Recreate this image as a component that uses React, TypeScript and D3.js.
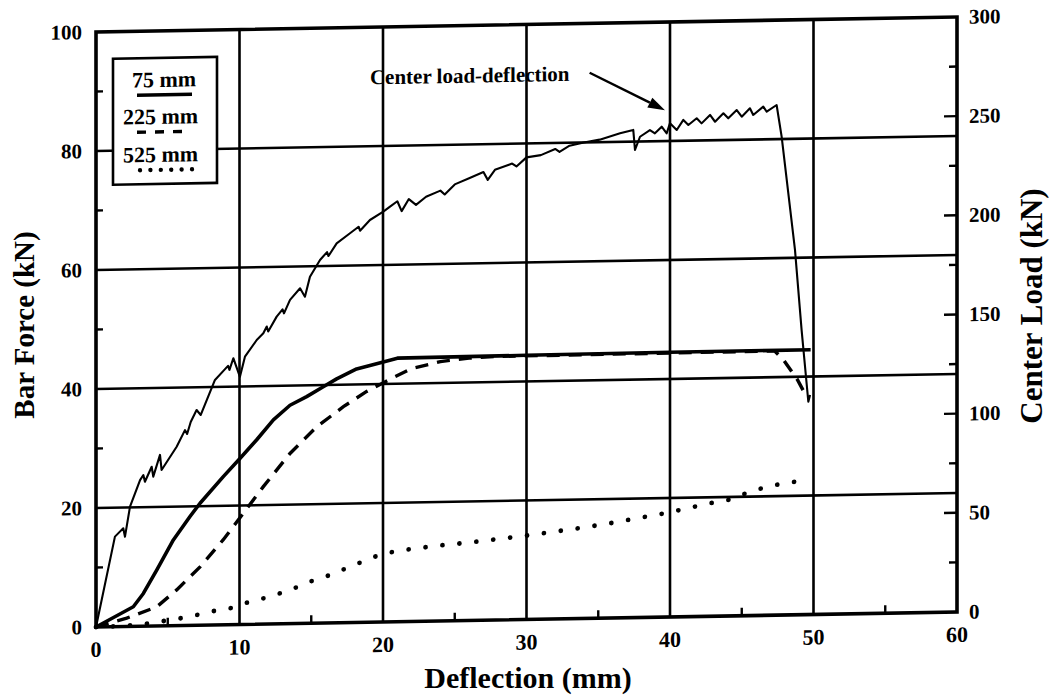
import React from "react";
import * as d3 from "d3";

// ---------- data ----------
const xTicks = [0, 10, 20, 30, 40, 50, 60];
const xMinorTicks = [5, 15, 25, 35, 45, 55];
const leftTicks = [0, 20, 40, 60, 80, 100];
const leftMinorTicks = [10, 30, 50, 70, 90];
const rightTicks = [0, 50, 100, 150, 200, 250, 300];
const rightMinorTicks = [25, 50, 75, 100, 125, 150, 175, 200, 225, 250, 275];
const vGrid = [10, 20, 30, 40, 50];
const hGrid = [20, 40, 60, 80];

// Center load (kN, right axis) vs deflection (mm)
const centerLoad: [number, number][] = [
  [0, 0], [1.32, 45.4], [1.9, 49.5], [2.02, 45.3], [2.37, 60.4], [3.07, 73.7], [3.3, 76.2], [3.41, 72.8],
  [3.88, 80.3], [3.99, 75.3], [4.46, 86.2], [4.57, 78.6], [5.62, 90.2], [6.2, 98.5], [6.35, 96.5], [6.6, 102.5],
  [7.01, 108.5], [7.3, 106], [8.29, 123.5], [9.2, 130.5], [9.3, 128.5], [9.57, 134.3], [10.03, 124.9], [10.38, 135],
  [11.2, 143.3], [11.66, 146.6], [11.9, 150], [12.0, 147.5], [12.59, 154.9], [13.0, 158.5], [13.1, 156.5],
  [13.52, 163.2], [14.22, 169], [14.56, 164.7], [14.91, 174.7], [15.61, 183.1], [16.1, 187], [16.2, 185],
  [16.77, 191.3], [17.7, 196.3], [18.3, 199.5], [18.4, 197.5], [19.09, 202.8], [20.02, 206.9], [20.49, 209.4],
  [21.0, 212], [21.3, 207], [21.8, 213], [22.3, 210], [23, 214], [24, 217], [24.3, 215], [25, 220], [26, 223],
  [27, 226], [27.3, 222], [27.8, 227], [29, 230], [29.3, 228.5], [30, 233], [31, 234], [32, 237], [32.3, 235.5],
  [33, 238.5], [34, 240], [35.1, 241.3], [36.52, 244.3], [37.44, 245.9], [37.56, 235.8], [37.91, 242.4],
  [38.6, 245.7], [38.95, 244], [39.42, 247.3], [39.77, 243.9], [40.0, 249], [40.47, 245.5], [40.93, 250.5],
  [41.28, 247.9], [41.86, 251.2], [42.2, 248.6], [42.79, 252.8], [43.14, 249.3], [43.72, 253.5], [44.06, 250.9],
  [44.65, 255], [45.0, 251.6], [45.57, 255.8], [45.8, 252.4], [46.5, 256.5], [46.74, 253.9], [47.43, 257.2],
  [47.78, 241.2], [48.71, 184], [49.17, 143.6], [49.64, 107.3], [49.76, 110.7],
];

// Bar force (kN, left axis) vs deflection (mm)
const bar75: [number, number][] = [
  [0, 0], [2.6, 3.3], [3.3, 5.5], [4.23, 9.4], [5.39, 14.4], [6.55, 18.3], [7.25, 20.5], [8.87, 24.9],
  [10.03, 27.9], [11.2, 31.0], [12.36, 34.3], [13.52, 36.7], [14.68, 38.1], [15.84, 39.7], [16.77, 41.0],
  [18.16, 42.6], [20.02, 43.7], [21, 44.3], [30, 44.4], [40, 44.5], [49.8, 44.5],
];
const bar225: [number, number][] = [
  [0, 0], [2.14, 1.4], [4.23, 3.2], [5.62, 6.0], [7.25, 9.8], [8.87, 14.3], [10.27, 18.7], [11.66, 23.1],
  [13.52, 28.6], [15.38, 33.0], [17.24, 36.3], [18.86, 38.8], [20.5, 40.8], [22, 42.5], [24, 43.6], [26, 44.1],
  [28, 44.3], [47.3, 44.4], [47.9, 42.9], [48.88, 39.5], [49.52, 36.6],
];
const bar525: [number, number][] = [
  [0, 0], [2, 0.1], [3.5, 0.4], [5.16, 0.96], [6.55, 1.46], [7.94, 2.24], [9.34, 2.75], [10.73, 3.8],
  [12.13, 4.6], [13.52, 5.65], [14.91, 7.0], [16.31, 8.05], [17.7, 9.4], [19.09, 10.7], [20.02, 11.5],
  [22, 12.2], [24, 12.7], [26, 13.1], [28, 13.6], [30, 14.1], [32, 14.7], [34, 15.3], [36, 16.0], [38, 16.8],
  [40, 17.6], [41.16, 18.2], [42.79, 19.0], [44.06, 19.5], [45.34, 20.6], [46.74, 21.6], [48.13, 22.2], [49.64, 22.6],
];

const legendLabels = ["75 mm", "225 mm", "525 mm"];
const annotationText = "Center load-deflection";
const annotationAt: [number, number] = [33.0, 90.4];
const arrowFrom: [number, number] = [34.4, 91.7];
const arrowTo: [number, number] = [39.65, 85.2];

// ---------- layout ----------
const W = 1052;
const H = 698;
const ORIGIN_X = 96;
const ORIGIN_Y = 627;
const PW = 861;
const PH = 595;
const SKEW = -1.0;
const FONT = "'Liberation Serif', 'Times New Roman', serif";

export default function App() {
  const x = d3.scaleLinear().domain([0, 60]).range([0, PW]);
  const yL = d3.scaleLinear().domain([0, 100]).range([0, -PH]);
  const yR = d3.scaleLinear().domain([0, 300]).range([0, -PH]);

  const lineL = d3.line<[number, number]>().x((d) => x(d[0])).y((d) => yL(d[1]));
  const lineR = d3.line<[number, number]>().x((d) => x(d[0])).y((d) => yR(d[1]));

  // arrow geometry
  const ax1 = x(arrowFrom[0]), ay1 = yL(arrowFrom[1]);
  const ax2 = x(arrowTo[0]), ay2 = yL(arrowTo[1]);
  const ang = Math.atan2(ay2 - ay1, ax2 - ax1);
  const hl = 17, hw = 5.5;
  const bx = ax2 - hl * Math.cos(ang), by = ay2 - hl * Math.sin(ang);
  const head = [
    [ax2, ay2],
    [bx + hw * Math.sin(ang), by - hw * Math.cos(ang)],
    [bx - hw * Math.sin(ang), by + hw * Math.cos(ang)],
  ];

  const lw = 2.6;
  return (
    <svg width={W} height={H} style={{ position: "absolute", left: 0, top: 0, background: "#fff" }}
      fontFamily={FONT}>
      <rect x={0} y={0} width={W} height={H} fill="#fff" />
      <g transform={`translate(${ORIGIN_X},${ORIGIN_Y}) skewY(${SKEW})`}>
        {/* grid */}
        {vGrid.map((v) => (
          <line key={"vg" + v} x1={x(v)} x2={x(v)} y1={0} y2={-PH} stroke="#000" strokeWidth={lw} />
        ))}
        {hGrid.map((v) => (
          <line key={"hg" + v} x1={0} x2={PW} y1={yL(v)} y2={yL(v)} stroke="#000" strokeWidth={lw} />
        ))}
        {/* minor ticks */}
        {xMinorTicks.map((v) => (
          <line key={"xm" + v} x1={x(v)} x2={x(v)} y1={0} y2={-8} stroke="#000" strokeWidth={2.4} />
        ))}
        {leftMinorTicks.map((v) => (
          <line key={"lm" + v} x1={0} x2={7} y1={yL(v)} y2={yL(v)} stroke="#000" strokeWidth={2.4} />
        ))}
        {rightMinorTicks.map((v) => (
          <line key={"rm" + v} x1={PW} x2={PW - (v % 50 === 0 ? 13 : 8)} y1={yR(v)} y2={yR(v)} stroke="#000" strokeWidth={2.4} />
        ))}

        {/* series */}
        <path d={lineL(bar525) || ""} fill="none" stroke="#000" strokeWidth={4.8} strokeLinecap="round"
          strokeDasharray="0 17" />
        <path d={lineL(bar225) || ""} fill="none" stroke="#000" strokeWidth={3.4} strokeDasharray="13 9" />
        <path d={lineL(bar75) || ""} fill="none" stroke="#000" strokeWidth={3.6} strokeLinejoin="round" />
        <path d={lineR(centerLoad) || ""} fill="none" stroke="#000" strokeWidth={2.1} strokeLinejoin="round" />

        {/* frame */}
        <rect x={0} y={-PH} width={PW} height={PH} fill="none" stroke="#000" strokeWidth={3.6} />

        {/* left tick labels */}
        {leftTicks.map((v) => (
          <text key={"lt" + v} x={-14} y={yL(v) + 7} textAnchor="end" fontSize={21} fontWeight="bold">{v}</text>
        ))}
        {/* right tick labels */}
        {rightTicks.map((v) => (
          <text key={"rt" + v} x={PW + 12} y={yR(v) + 7} textAnchor="start" fontSize={21} fontWeight="bold">{v}</text>
        ))}
        {/* bottom tick labels */}
        {xTicks.map((v) => (
          <text key={"xt" + v} x={x(v)} y={30} textAnchor="middle" fontSize={22} fontWeight="bold">{v}</text>
        ))}

        {/* legend */}
        <g>
          <rect x={17} y={-568} width={104} height={126} fill="#fff" stroke="#000" strokeWidth={2.6} />
          <text x={36} y={-539} fontSize={22} fontWeight="bold">{legendLabels[0]}</text>
          <line x1={41} x2={96} y1={-531} y2={-531} stroke="#000" strokeWidth={3.6} />
          <text x={27} y={-502} fontSize={22} fontWeight="bold">{legendLabels[1]}</text>
          <line x1={41} x2={92} y1={-494} y2={-494} stroke="#000" strokeWidth={3.4} strokeDasharray="9 9" />
          <text x={27} y={-464} fontSize={22} fontWeight="bold">{legendLabels[2]}</text>
          <line x1={44} x2={96} y1={-456} y2={-456} stroke="#000" strokeWidth={4.4} strokeLinecap="round"
            strokeDasharray="0 10.4" />
        </g>

        {/* annotation */}
        <text x={x(annotationAt[0])} y={yL(annotationAt[1])} textAnchor="end" fontSize={21} fontWeight="bold">
          {annotationText}
        </text>
        <line x1={ax1} y1={ay1} x2={bx} y2={by} stroke="#000" strokeWidth={2.4} />
        <polygon points={head.map((p) => p.join(",")).join(" ")} fill="#000" />
      </g>

      {/* axis titles */}
      <text x={528} y={688} textAnchor="middle" fontSize={30} fontWeight="bold">Deflection (mm)</text>
      <text transform="translate(34,325) rotate(-90)" textAnchor="middle" fontSize={29} fontWeight="bold">
        Bar Force (kN)
      </text>
      <text transform="translate(1042,306) rotate(-90)" textAnchor="middle" fontSize={31} fontWeight="bold">
        Center Load (kN)
      </text>
    </svg>
  );
}
